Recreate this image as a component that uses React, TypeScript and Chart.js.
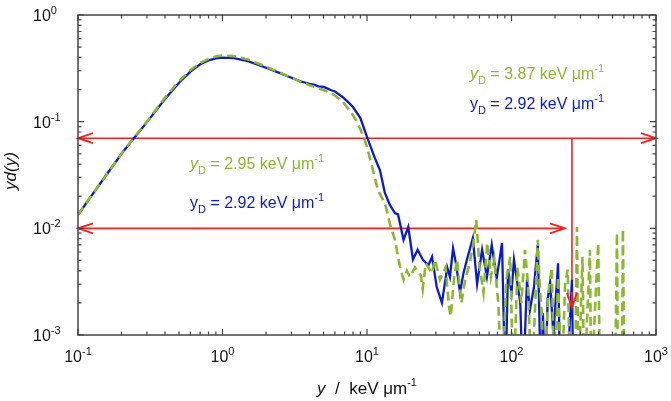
import React, { useEffect, useRef } from 'react';
import { Chart, registerables } from 'chart.js';

Chart.register(...registerables);

const W = 671;
const H = 401;
const FONT = '"Liberation Sans", Arial, Helvetica, sans-serif';

const GREEN = '#8cb82b';
const BLUE = '#0a1ad2';
const RED = '#ff1c1c';
const INK = '#111111';
const FRAME = '#444444';

// dashed green spectrum (lineal energy y in keV/um, yd(y))
const greenX = [
  0.1, 0.12, 0.15, 0.2, 0.25, 0.3, 0.4, 0.5, 0.6, 0.7,
  0.8, 0.9, 1.0, 1.2, 1.5, 2.0, 2.5, 3.0, 3.5, 4.0,
  4.5, 5.0, 5.5, 6.0, 6.8, 7.5, 8.0, 8.5, 9.0, 9.5,
  10, 11, 11.9, 12.9, 13.5, 14.4, 15.6, 16.9, 17.9, 18.9,
  19.8, 21.5, 23.6, 24.3, 25.5, 28.2, 29.5, 32, 35, 37,
  38, 40, 42, 45, 48, 51, 54, 57, 60, 64,
  68, 72, 76, 81, 86, 92, 98, 103, 110, 117,
  124, 130, 138, 152, 157, 162, 168, 180, 190, 198,
  210, 222, 235, 245, 255, 275, 284, 290, 310, 318,
  349, 356, 398, 410, 520, 537, 545, 580, 590, 605,
];
const greenY = [
  0.0134, 0.019, 0.029, 0.05, 0.074, 0.1, 0.168, 0.24, 0.305, 0.355,
  0.388, 0.408, 0.418, 0.412, 0.382, 0.328, 0.288, 0.258, 0.235, 0.22,
  0.208, 0.198, 0.188, 0.176, 0.153, 0.13, 0.115, 0.1, 0.085, 0.071,
  0.058, 0.035, 0.0229, 0.0185, 0.016, 0.011, 0.0078, 0.0044, 0.0033, 0.004,
  0.0035, 0.0043, 0.0036, 0.0027, 0.0047, 0.0038, 0.0051, 0.0033, 0.0043, 0.0018,
  0.0015, 0.0034, 0.0051, 0.002, 0.0034, 0.0045, 0.0067, 0.012, 0.0045, 0.0025,
  0.0073, 0.0035, 0.0052, 0.002, 0.0003, 0.0033, 0.0054, 0.0003, 0.0043, 0.002,
  0.0063, 0.003, 0.0003, 0.0078, 0.0028, 0.0016, 0.0003, 0.0025, 0.0043, 0.0003,
  0.0035, 0.0003, 0.003, 0.0041, 0.0003, 0.0003, 0.0103, 0.0003, 0.0054, 0.0003,
  0.0063, 0.0003, 0.0073, 0.0003, 0.0003, 0.0091, 0.0003, 0.0003, 0.0098, 0.0003,
];

// solid blue spectrum
const blueX = [
  0.1, 0.12, 0.15, 0.2, 0.25, 0.3, 0.4, 0.5, 0.6, 0.7,
  0.8, 0.9, 1.0, 1.2, 1.5, 2.0, 2.5, 3.0, 3.5, 4.0,
  4.3, 4.6, 5.0, 5.3, 5.6, 6.0, 6.8, 7.5, 8.0, 9.0,
  10, 11.3, 12.3, 13.3, 14.4, 15.6, 16.4, 17.9, 19.3, 20.8,
  22.4, 24.3, 26.6, 28.2, 30.4, 33, 35.9, 37.5, 39.4, 41.5,
  44, 46.5, 49.2, 54, 57.8, 62.6, 67.6, 73, 79, 86,
  90.5, 94.6, 100, 104, 110, 115, 120, 128, 134, 143,
  152, 160, 165, 171, 178, 185, 195, 210, 218, 240,
  262, 268,
];
const blueY = [
  0.0134, 0.019, 0.029, 0.05, 0.073, 0.099, 0.163, 0.232, 0.295, 0.345,
  0.375, 0.392, 0.398, 0.395, 0.37, 0.32, 0.285, 0.258, 0.238, 0.226,
  0.222, 0.214, 0.212, 0.205, 0.198, 0.192, 0.17, 0.15, 0.137, 0.108,
  0.072, 0.046, 0.035, 0.0215, 0.0166, 0.0139, 0.0135, 0.0078, 0.0103, 0.0051,
  0.0063, 0.0051, 0.0045, 0.0054, 0.0028, 0.002, 0.0043, 0.0035, 0.0065, 0.0045,
  0.0025, 0.0038, 0.0051, 0.0081, 0.003, 0.0063, 0.0035, 0.007, 0.0034, 0.0073,
  0.0003, 0.0041, 0.0025, 0.0051, 0.003, 0.002, 0.0003, 0.0033, 0.0017, 0.0028,
  0.007, 0.0003, 0.0016, 0.0003, 0.0022, 0.0031, 0.001, 0.0047, 0.0003, 0.0003,
  0.0033, 0.0003,
];

const xDecades = [-1, 0, 1, 2, 3];
const yDecades = [-3, -2, -1, 0];

// red guide arrows (data units)
const arrowX1 = [0.1, 262, 0.1];
const arrowY1 = [0.07, 0.07, 0.01];
const arrowX2 = [1000, 262, 234];
const arrowY2 = [0.07, 0.0018, 0.01];
const arrowBoth = [true, false, true];

// dose-mean lineal energy notes
const noteValues = ['3.87', '2.92', '2.95', '2.92'];
const noteColors = [GREEN, BLUE, GREEN, BLUE];
const noteItalic = [true, false, true, false];

// note anchors, placed in data units (left edge, text baseline)
const NOTE_POS = [
  { x: 51.6, y: 0.251 },
  { x: 51.6, y: 0.1315 },
  { x: 0.596, y: 0.036 },
  { x: 0.596, y: 0.0155 },
];

type Part = { t: string; size: number; italic?: boolean; dy?: number };

function drawParts(ctx: CanvasRenderingContext2D, parts: Part[], x: number, y: number, align: string) {
  const fontOf = (p: Part) => `${p.italic ? 'italic ' : ''}${p.size}px ${FONT}`;
  let w = 0;
  for (const p of parts) {
    ctx.font = fontOf(p);
    w += ctx.measureText(p.t).width;
  }
  let cx = align === 'center' ? x - w / 2 : align === 'right' ? x - w : x;
  ctx.textAlign = 'left';
  ctx.textBaseline = 'alphabetic';
  for (const p of parts) {
    ctx.font = fontOf(p);
    ctx.fillText(p.t, cx, y + (p.dy || 0));
    cx += ctx.measureText(p.t).width;
  }
}

function arrowHead(ctx: CanvasRenderingContext2D, tx: number, ty: number, dx: number, dy: number) {
  const L = 15;
  const hw = 5;
  const bx = tx - dx * L;
  const by = ty - dy * L;
  ctx.beginPath();
  ctx.moveTo(bx - dy * hw, by + dx * hw);
  ctx.lineTo(tx, ty);
  ctx.lineTo(bx + dy * hw, by - dx * hw);
  ctx.stroke();
}

function arrowPixels(chart: any, i: number) {
  const xs = chart.scales.x;
  const ys = chart.scales.y;
  return {
    x1: xs.getPixelForValue(arrowX1[i]),
    y1: ys.getPixelForValue(arrowY1[i]),
    x2: xs.getPixelForValue(arrowX2[i]),
    y2: ys.getPixelForValue(arrowY2[i]),
  };
}

const decor = {
  id: 'decor',
  beforeDatasetsDraw(chart: any) {
    const { ctx } = chart;
    ctx.save();
    ctx.strokeStyle = RED;
    ctx.lineWidth = 1.6;
    for (let i = 0; i < arrowX1.length; i++) {
      const { x1, y1, x2, y2 } = arrowPixels(chart, i);
      ctx.beginPath();
      ctx.moveTo(x1, y1);
      ctx.lineTo(x2, y2);
      ctx.stroke();
    }
    ctx.restore();
  },
  afterDatasetsDraw(chart: any) {
    const { ctx } = chart;
    ctx.save();
    ctx.strokeStyle = RED;
    ctx.lineWidth = 1.8;
    ctx.lineJoin = 'miter';
    for (let i = 0; i < arrowX1.length; i++) {
      const { x1, y1, x2, y2 } = arrowPixels(chart, i);
      const len = Math.hypot(x2 - x1, y2 - y1);
      const ux = (x2 - x1) / len;
      const uy = (y2 - y1) / len;
      if (!arrowBoth[i]) {
        // short stem so the head reads clearly over the dashed trace
        ctx.beginPath();
        ctx.moveTo(x2 - ux * 16, y2 - uy * 16);
        ctx.lineTo(x2, y2);
        ctx.stroke();
      }
      arrowHead(ctx, x2, y2, ux, uy);
      if (arrowBoth[i]) arrowHead(ctx, x1, y1, -ux, -uy);
    }
    ctx.restore();
  },
  afterDraw(chart: any) {
    const { ctx, scales, chartArea } = chart;
    const xs = scales.x;
    const ys = scales.y;
    const { left, right, top, bottom } = chartArea;
    ctx.save();

    // frame
    ctx.strokeStyle = FRAME;
    ctx.lineWidth = 1.5;
    ctx.strokeRect(left, top, right - left, bottom - top);

    // inward ticks on all four sides
    ctx.lineWidth = 1.2;
    const major = 6;
    const minor = 3.5;
    ctx.beginPath();
    for (let e = -1; e <= 3; e++) {
      for (let m = 1; m <= 9; m++) {
        if (e === 3 && m > 1) break;
        const px = xs.getPixelForValue(m * Math.pow(10, e));
        const len = m === 1 ? major : minor;
        ctx.moveTo(px, bottom);
        ctx.lineTo(px, bottom - len);
        ctx.moveTo(px, top);
        ctx.lineTo(px, top + len);
      }
    }
    for (let e = -3; e <= 0; e++) {
      for (let m = 1; m <= 9; m++) {
        if (e === 0 && m > 1) break;
        const py = ys.getPixelForValue(m * Math.pow(10, e));
        const len = m === 1 ? major : minor;
        ctx.moveTo(left, py);
        ctx.lineTo(left + len, py);
        ctx.moveTo(right, py);
        ctx.lineTo(right - len, py);
      }
    }
    ctx.stroke();

    // tick labels
    ctx.fillStyle = INK;
    for (const e of xDecades) {
      const px = xs.getPixelForValue(Math.pow(10, e));
      drawParts(ctx, [{ t: '10', size: 16 }, { t: String(e), size: 11, dy: -7 }], px, bottom + 27, 'center');
    }
    for (const e of yDecades) {
      const py = ys.getPixelForValue(Math.pow(10, e));
      drawParts(ctx, [{ t: '10', size: 16 }, { t: String(e), size: 11, dy: -7 }], 33, py + 6, 'left');
    }

    // axis titles
    drawParts(
      ctx,
      [
        { t: 'y', size: 17, italic: true },
        { t: '  /  keV \u03bcm', size: 17 },
        { t: '-1', size: 11, dy: -8 },
      ],
      (left + right) / 2,
      394,
      'center'
    );
    ctx.save();
    ctx.translate(16, (top + bottom) / 2 - 4);
    ctx.rotate(-Math.PI / 2);
    drawParts(ctx, [{ t: 'yd(y)', size: 17, italic: true }], 0, 0, 'center');
    ctx.restore();

    // notes
    for (let i = 0; i < noteValues.length; i++) {
      ctx.fillStyle = noteColors[i];
      const nx = xs.getPixelForValue(NOTE_POS[i].x);
      const ny = ys.getPixelForValue(NOTE_POS[i].y);
      drawParts(
        ctx,
        [
          { t: 'y', size: 16, italic: noteItalic[i] },
          { t: 'D', size: 11, dy: 5 },
          { t: ` = ${noteValues[i]} keV \u03bcm`, size: 16 },
          { t: '-1', size: 11, dy: -7 },
        ],
        nx,
        ny,
        'left'
      );
    }
    ctx.restore();
  },
};

const App: React.FC = () => {
  const canvasRef = useRef<HTMLCanvasElement | null>(null);

  useEffect(() => {
    document.body.style.margin = '0';
    if (!canvasRef.current) return;
    const ctx = canvasRef.current.getContext('2d');
    if (!ctx) return;

    const chart = new Chart(ctx, {
      type: 'line',
      data: {
        datasets: [
          {
            label: 'green',
            data: greenX.map((x, i) => ({ x, y: greenY[i] })),
            borderColor: GREEN,
            borderWidth: 2.6,
            borderDash: [9, 5],
            pointRadius: 0,
            tension: 0,
            fill: false,
          },
          {
            label: 'blue',
            data: blueX.map((x, i) => ({ x, y: blueY[i] })),
            borderColor: BLUE,
            borderWidth: 2.3,
            pointRadius: 0,
            tension: 0,
            fill: false,
          },
        ],
      },
      options: {
        responsive: false,
        animation: false,
        layout: { padding: { left: 0, top: 15, right: 15, bottom: 0 } },
        plugins: { legend: { display: false }, tooltip: { enabled: false } },
        scales: {
          x: {
            type: 'logarithmic',
            min: 0.1,
            max: 1000,
            ticks: { display: false },
            grid: { display: false },
            border: { display: false },
            afterFit: (scale: any) => {
              scale.height = 66;
            },
          },
          y: {
            type: 'logarithmic',
            min: 0.001,
            max: 1,
            ticks: { display: false },
            grid: { display: false },
            border: { display: false },
            afterFit: (scale: any) => {
              scale.width = 78;
            },
          },
        },
      },
      plugins: [decor],
    });

    return () => {
      chart.destroy();
    };
  }, []);

  return (
    <div style={{ width: W, height: H, background: '#fff' }}>
      <canvas ref={canvasRef} width={W} height={H} style={{ display: 'block' }} />
    </div>
  );
};

export default App;
